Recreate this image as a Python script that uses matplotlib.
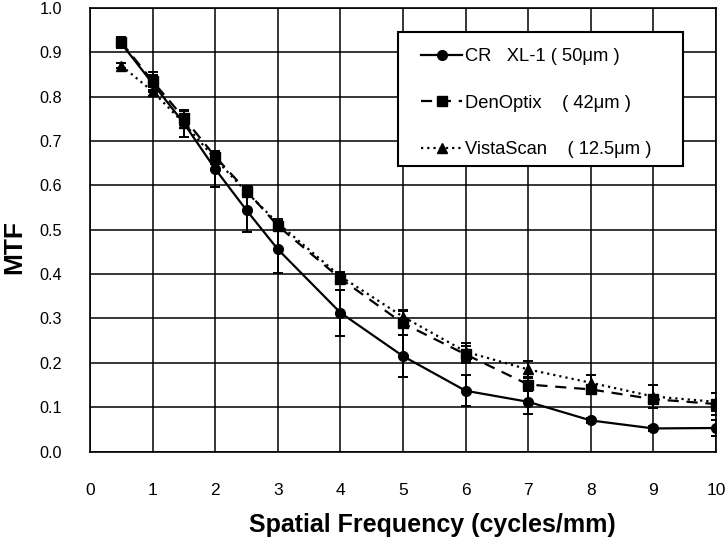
import matplotlib
matplotlib.use("Agg")
import matplotlib.pyplot as plt
from matplotlib import font_manager
from matplotlib.patches import Rectangle
from matplotlib.lines import Line2D

# Data
freq = [0.5, 1, 1.5, 2, 2.5, 3, 4, 5, 6, 7, 8, 9, 10]

cr_mtf = [0.920, 0.830, 0.740, 0.637, 0.544, 0.456, 0.313, 0.215, 0.137, 0.112, 0.070, 0.052, 0.053]
cr_err = [0.010, 0.020, 0.030, 0.040, 0.050, 0.054, 0.052, 0.047, 0.035, 0.028, 0.005, 0.005, 0.018]

den_mtf = [0.923, 0.835, 0.752, 0.665, 0.588, 0.509, 0.390, 0.289, 0.219, 0.151, 0.140, 0.118, 0.107]
den_err = [0.012, 0.020, 0.015, 0.010, 0.010, 0.010, 0.012, 0.027, 0.020, 0.015, 0.010, 0.010, 0.025]

vista_mtf = [0.870, 0.812, 0.740, 0.660, 0.585, 0.515, 0.395, 0.304, 0.225, 0.185, 0.155, 0.124, 0.112]
vista_err = [0.005, 0.010, 0.010, 0.010, 0.010, 0.010, 0.010, 0.015, 0.020, 0.018, 0.018, 0.026, 0.020]

labels = ["CR   XL-1 ( 50μm )", "DenOptix    ( 42μm )", "VistaScan    ( 12.5μm )"]

x_ticks = list(range(0, 11))
y_ticks = [round(0.1 * i, 1) for i in range(11)]

W, H = 726, 541

# line styles per series: (marker, linestyle, markersize)
styles = [("o", "-", 7), ("s", (0, (5, 3.5)), 6.5), ("^", (0, (1, 1.8)), 6.5)]

installed = {f.name for f in font_manager.fontManager.ttflist}
base_font = "Liberation Sans" if "Liberation Sans" in installed else "DejaVu Sans"
narrow_font = "Liberation Sans Narrow" if "Liberation Sans Narrow" in installed else base_font
plt.rcParams["font.family"] = [base_font, "DejaVu Sans"]


def setup_plot():
  fig = plt.figure(figsize=(W / 100, H / 100), dpi=100)
  # axes box in pixels: left 90, right 716, top 8, bottom 451.5
  ax = fig.add_axes([90 / W, 1 - 451.5 / H, 626 / W, 443.5 / H])

  ax.set_xlim(0, 10)
  ax.set_ylim(0, 1.0)
  ax.set_xticks(x_ticks)
  ax.set_yticks(y_ticks)
  ax.set_yticklabels([f"{v:.1f}" for v in y_ticks], fontsize=11.7)
  ax.set_xticklabels([str(v) for v in x_ticks], fontsize=12.5, family=[narrow_font, "DejaVu Sans"])
  ax.tick_params(axis="x", length=0, pad=23)
  ax.tick_params(axis="y", length=0, pad=20)
  ax.grid(True, color="black", linewidth=1.1)
  ax.set_axisbelow(True)
  for sp in ax.spines.values():
    sp.set_linewidth(1.2)

  fig.text(14 / W, 1 - 247 / H, "MTF", rotation=90, fontsize=19, fontweight="bold",
           ha="center", va="center")
  fig.text(0.5 * (245 + 620) / W, 1 - 525 / H, "Spatial Frequency (cycles/mm)",
           fontsize=18, fontweight="bold", ha="center", va="center",
           family=[narrow_font, "DejaVu Sans"])
  return fig, ax


def draw_series(ax):
  common = dict(color="black", ecolor="black", elinewidth=1.4, capsize=3.5, capthick=1.4)
  series = [(cr_mtf, cr_err), (den_mtf, den_err), (vista_mtf, vista_err)]
  for (vals, errs), (mk, ls, ms) in zip(series, styles):
    ax.errorbar(freq, vals, yerr=errs, marker=mk, linestyle=ls, linewidth=1.6,
                markersize=ms, **common)


def draw_legend(fig, ax):
  # frame drawn by hand so the box matches the reference exactly
  x0, x1, y0, y1 = 398, 683, 32, 166
  frame = Rectangle((x0 / W, 1 - y1 / H), (x1 - x0) / W, (y1 - y0) / H,
                    transform=fig.transFigure, facecolor="white",
                    edgecolor="black", linewidth=1.5, zorder=5, clip_on=False)
  ax.add_patch(frame)
  handles = [Line2D([], [], color="black", marker=mk, linestyle=ls, linewidth=1.6, markersize=ms)
             for mk, ls, ms in styles]
  leg = ax.legend(handles=handles, labels=labels, loc="upper left",
                  bbox_to_anchor=(414 / W, 1 - 41 / H), bbox_transform=fig.transFigure,
                  frameon=False, fontsize=13.2, handlelength=2.2, handletextpad=0.2,
                  labelspacing=1.6, borderaxespad=0, borderpad=0.4)
  leg.set_zorder(6)


def main():
  fig, ax = setup_plot()
  draw_series(ax)
  draw_legend(fig, ax)
  fig.savefig("out.png", dpi=100)


if __name__ == "__main__":
  main()
